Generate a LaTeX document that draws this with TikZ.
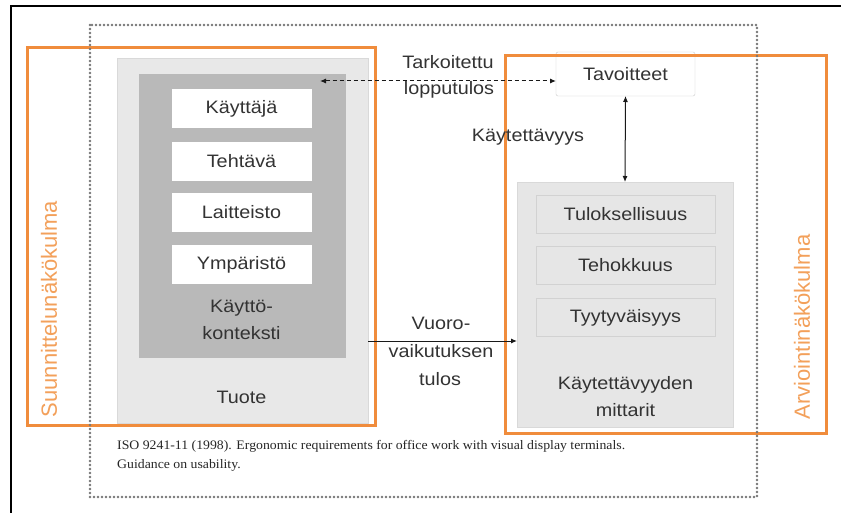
\documentclass[tikz,border=0pt]{standalone}
\usepackage{fontspec}
\setmainfont{Liberation Sans}
\newfontfamily\labf{Liberation Sans}[FakeStretch=1.1]
\newfontfamily\citf{Liberation Serif}[FakeStretch=1.06]
\usetikzlibrary{arrows.meta}
\definecolor{orng}{HTML}{F08C3C}
\definecolor{orngtxt}{HTML}{F3A05A}
\definecolor{txt}{HTML}{333333}
\definecolor{gA}{HTML}{E8E8E8}
\definecolor{gB}{HTML}{B9B9B9}
\definecolor{gC}{HTML}{E6E6E6}
\definecolor{dotg}{HTML}{767676}
\tikzset{
  lab/.style={text=txt, font=\labf\fontsize{18}{27}\selectfont, align=center, inner sep=0pt},
  shell/.style={inner sep=0pt, outer sep=0pt},
  whitebox/.style={shell, fill=white, draw=white, minimum width=139pt, minimum height=38pt, lab},
  metbox/.style={shell, fill=gC, draw=gray!35, minimum width=179pt, minimum height=38pt, lab},
  persp/.style={draw=orng, line width=3pt},
  rotlab/.style={rotate=90, text=orngtxt, font=\fontsize{22}{22}\selectfont, inner sep=0pt},
  conn/.style={black!90, line width=1pt},
  tips/.style={{Latex[length=6pt,width=5pt]}-{Latex[length=6pt,width=5pt]}},
  tip/.style={-{Latex[length=6pt,width=5pt]}},
}
\begin{document}
\begin{tikzpicture}[x=1pt,y=-1pt]
\useasboundingbox (0,0) rectangle (841,513);
\fill[white] (0,0) rectangle (841,513);
% screenshot frame
\draw[line width=2pt, black] (11,520) -- (11,6) -- (850,6);

% product side
\node[shell, fill=gA, draw=gray!30, minimum width=251pt, minimum height=365pt] (tuote) at (242.5,240.5) {};
\node[shell, fill=gB, minimum width=207pt, minimum height=284pt] (kk) at (242.5,216) {};
\node[whitebox] (kayttaja) at (241.5,108.5) {Käyttäjä};
\node[whitebox] (tehtava) at (241.5,161.5) {Tehtävä};
\node[whitebox] (laitteisto) at (241.5,212.5) {Laitteisto};
\node[whitebox] (ymparisto) at (241.5,264.5) {Ympäristö};
\node[lab] (kktxt) at (241.5,320) {Käyttö-\\konteksti};
\node[lab] (tuotetxt) at (241.5,397) {Tuote};

% evaluation side
\node[shell, fill=white, draw=gray!40, rounded corners=2pt, minimum width=139pt, minimum height=44pt, lab] (tav) at (625.5,74) {Tavoitteet};
\node[shell, fill=gC, draw=gray!30, minimum width=216pt, minimum height=245pt] (met) at (625,304.5) {};
\node[metbox] (tul) at (625.5,214.5) {Tuloksellisuus};
\node[metbox] (teh) at (625.5,265.5) {Tehokkuus};
\node[metbox] (tyy) at (625.5,317.5) {Tyytyväisyys};
\node[lab] (mettxt) at (625.5,397) {Käytettävyyden\\mittarit};

% perspectives
\draw[persp] (27,48) rectangle (375,425);
\draw[persp] (505,56) rectangle (826,433);
\node[rotlab] (suun) at (49,309) {Suunnittelunäkökulma};
\node[rotlab] (arvi) at (802,327) {Arviointinäkökulma};

% connectors
\coordinate (dl) at (320,81);
\draw[conn, tips, dash pattern=on 4pt off 3pt] (dl) -- (dl -| tav.west);
\draw[conn, tips] (tav.south) -- (met.north);
\coordinate (sa) at (368,341);
\draw[conn, tip] (sa) -- (sa -| met.west);

\node[lab] (tark) at (448,62) {Tarkoitettu};
\node[lab] (loppu) at (449,90) {lopputulos};
\node[lab] (kaytt) at (528,137) {Käytettävyys};
\node[lab] (vuoro) at (441,323) {Vuoro-};
\node[lab] (vaik) at (441,351) {vaikutuksen};
\node[lab] (tulos) at (440,379) {tulos};

% citation
\node[anchor=north west, align=left, text=black!85, inner sep=0pt, font=\citf\fontsize{13}{19}\selectfont] (cite) at (117,440)
  {ISO 9241-11 (1998). Ergonomic requirements for office work with visual display terminals.\\Guidance on usability.};

% dotted frame
\draw[dotg, line width=2.6pt, line cap=round, dash pattern=on 0pt off 4pt] (90,25) rectangle (757,497);
\end{tikzpicture}
\end{document}
